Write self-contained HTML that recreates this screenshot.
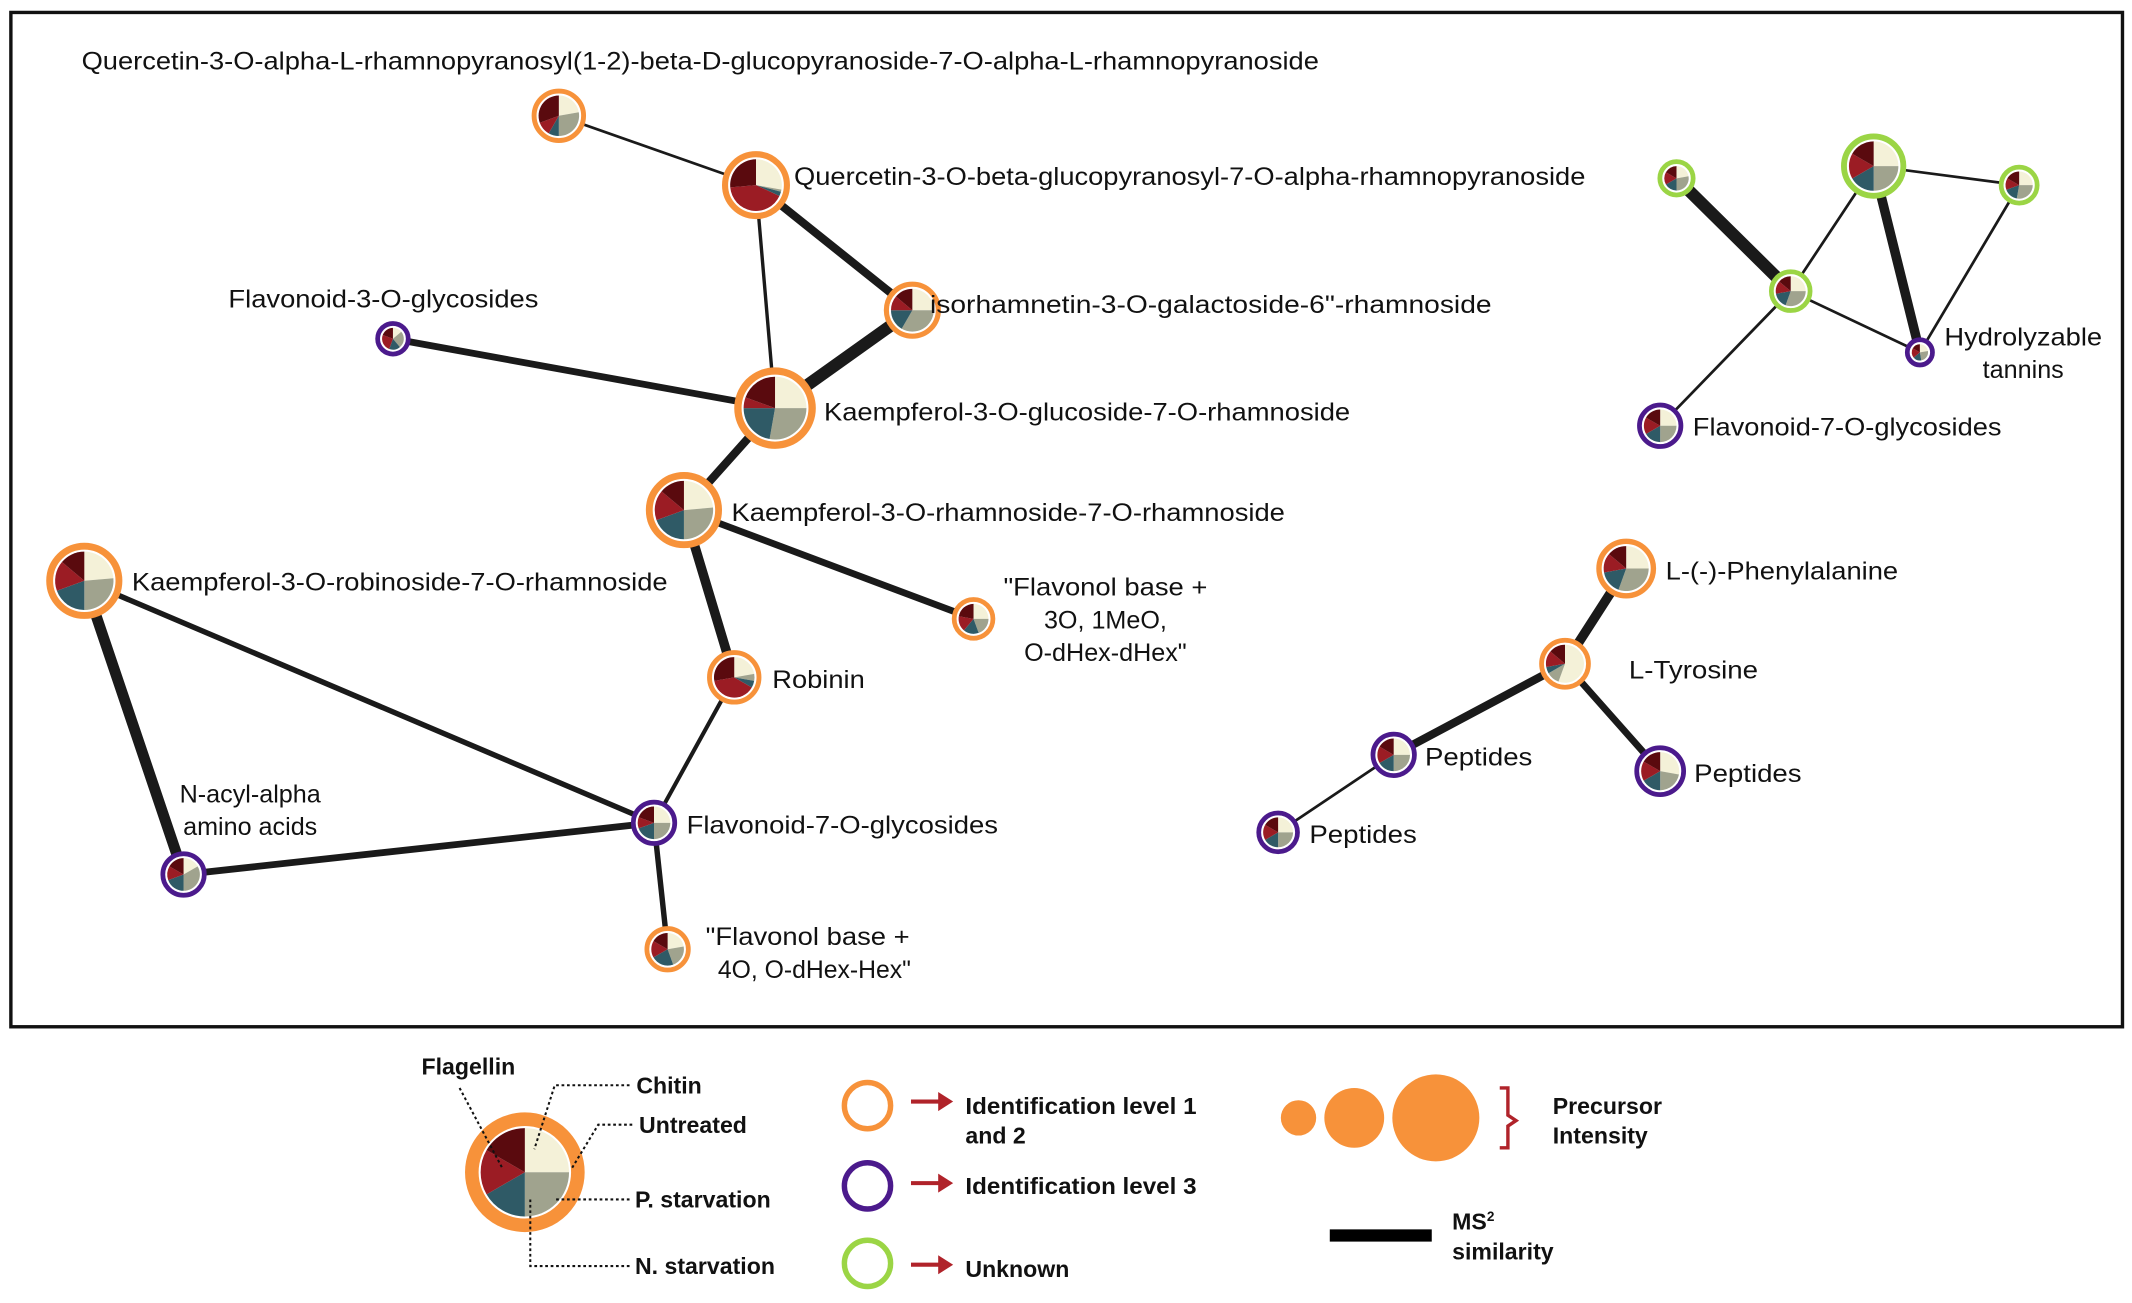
<!DOCTYPE html>
<html><head><meta charset="utf-8"><style>
html,body{margin:0;padding:0;background:#fff}
svg{display:block}
text{font-family:"Liberation Sans",Arial,sans-serif;fill:#111}
.b{font-weight:bold;font-size:17px}
</style></head><body>
<svg id="s" width="2132" height="1303" viewBox="0 0 1568 958" xmlns="http://www.w3.org/2000/svg">
<rect x="8" y="9" width="1553" height="746" fill="none" stroke="#111" stroke-width="2.5"/>
<g id="edges" stroke="#1a1a1a" stroke-linecap="round"></g>
<g id="nodes"></g>
<g font-size="18.5" lengthAdjust="spacingAndGlyphs">
<text x="60" y="51" textLength="910" lengthAdjust="spacingAndGlyphs">Quercetin-3-O-alpha-L-rhamnopyranosyl(1-2)-beta-D-glucopyranoside-7-O-alpha-L-rhamnopyranoside</text>
<text x="584" y="136" textLength="582" lengthAdjust="spacingAndGlyphs">Quercetin-3-O-beta-glucopyranosyl-7-O-alpha-rhamnopyranoside</text>
<text x="684" y="230" textLength="413" lengthAdjust="spacingAndGlyphs">isorhamnetin-3-O-galactoside-6"-rhamnoside</text>
<text x="168" y="226" textLength="228" lengthAdjust="spacingAndGlyphs">Flavonoid-3-O-glycosides</text>
<text x="606" y="309" textLength="387" lengthAdjust="spacingAndGlyphs">Kaempferol-3-O-glucoside-7-O-rhamnoside</text>
<text x="538" y="383" textLength="407" lengthAdjust="spacingAndGlyphs">Kaempferol-3-O-rhamnoside-7-O-rhamnoside</text>
<text x="97" y="434" textLength="394" lengthAdjust="spacingAndGlyphs">Kaempferol-3-O-robinoside-7-O-rhamnoside</text>
<text x="738" y="438" textLength="150" lengthAdjust="spacingAndGlyphs">"Flavonol base +</text>
<text x="813" y="462" text-anchor="middle">3O, 1MeO,</text>
<text x="813" y="486" text-anchor="middle">O-dHex-dHex"</text>
<text x="568" y="506" textLength="68" lengthAdjust="spacingAndGlyphs">Robinin</text>
<text x="505" y="613" textLength="229" lengthAdjust="spacingAndGlyphs">Flavonoid-7-O-glycosides</text>
<text x="184" y="590" text-anchor="middle">N-acyl-alpha</text>
<text x="184" y="614" text-anchor="middle">amino acids</text>
<text x="519" y="695" textLength="150" lengthAdjust="spacingAndGlyphs">"Flavonol base +</text>
<text x="528" y="719" textLength="142" lengthAdjust="spacingAndGlyphs">4O, O-dHex-Hex"</text>
<text x="1430" y="254" textLength="116" lengthAdjust="spacingAndGlyphs">Hydrolyzable</text>
<text x="1488" y="278" text-anchor="middle">tannins</text>
<text x="1245" y="320" textLength="227" lengthAdjust="spacingAndGlyphs">Flavonoid-7-O-glycosides</text>
<text x="1225" y="426" textLength="171" lengthAdjust="spacingAndGlyphs">L-(-)-Phenylalanine</text>
<text x="1198" y="499" textLength="95" lengthAdjust="spacingAndGlyphs">L-Tyrosine</text>
<text x="1048" y="563" textLength="79" lengthAdjust="spacingAndGlyphs">Peptides</text>
<text x="1246" y="575" textLength="79" lengthAdjust="spacingAndGlyphs">Peptides</text>
<text x="963" y="620" textLength="79" lengthAdjust="spacingAndGlyphs">Peptides</text>
</g>
<!-- legend -->
<g id="leg"></g>
<g stroke="#111" stroke-width="1.5" stroke-dasharray="2,2" fill="none">
<polyline points="338,800 370,860"/>
<polyline points="463,798 408,798 393,845"/>
<polyline points="465,827 440,827 420,860"/>
<polyline points="463,882 408,882"/>
<polyline points="463,931 390,931 390,880"/>
</g>
<text class="b" x="310" y="790">Flagellin</text>
<text class="b" x="468" y="804">Chitin</text>
<text class="b" x="470" y="833">Untreated</text>
<text class="b" x="467" y="888">P. starvation</text>
<text class="b" x="467" y="937">N. starvation</text>
<circle cx="638" cy="813" r="17" fill="none" stroke="#f7923a" stroke-width="4"/>
<circle cx="638" cy="872" r="17" fill="none" stroke="#4b1a8c" stroke-width="4"/>
<circle cx="638" cy="929" r="17" fill="none" stroke="#9bd545" stroke-width="4"/>
<g fill="#b0232a" stroke="#b0232a" stroke-width="3">
<line x1="670" y1="810" x2="692" y2="810"/><polygon points="690,803 701,810 690,817" stroke="none"/>
<line x1="670" y1="870" x2="692" y2="870"/><polygon points="690,863 701,870 690,877" stroke="none"/>
<line x1="670" y1="930" x2="692" y2="930"/><polygon points="690,923 701,930 690,937" stroke="none"/>
</g>
<text class="b" x="710" y="819" textLength="170" lengthAdjust="spacingAndGlyphs">Identification  level 1</text>
<text class="b" x="710" y="841">and 2</text>
<text class="b" x="710" y="878" textLength="170" lengthAdjust="spacingAndGlyphs">Identification  level 3</text>
<text class="b" x="710" y="939">Unknown</text>
<circle cx="955" cy="822" r="13" fill="#f7923a"/>
<circle cx="996" cy="822" r="22" fill="#f7923a"/>
<circle cx="1056" cy="822" r="32" fill="#f7923a"/>
<path d="M1103,800 h6 v20 l6,4 l-6,4 v16 h-6" fill="none" stroke="#b0232a" stroke-width="2.5"/>
<text class="b" x="1142" y="819">Precursor</text>
<text class="b" x="1142" y="841">Intensity</text>
<rect x="978" y="904" width="75" height="9" fill="#000"/>
<text class="b" x="1068" y="904">MS<tspan font-size="10" dy="-6">2</tspan></text>
<text class="b" x="1068" y="926">similarity</text>
</svg>
<script>
var NS="http://www.w3.org/2000/svg";
var C={o:"#f7923a",p:"#4b1a8c",g:"#9bd545"};
var P=["#f4f1d8","#a0a38e","#2f5a66","#9b1c24","#5a0a0e"];
var N={
Q1:[411,85,20,"o",[80,100,30,40,110]],
Q2:[556,136,25,"o",[100,5,10,150,95]],
Iso:[671,228,21,"o",[90,120,60,40,50]],
F3G:[289,249,13,"p",[50,90,60,90,70]],
K1:[570,300,30,"o",[90,100,80,20,70]],
K2:[503,375,28,"o",[85,95,70,60,50]],
KR:[62,427,28,"o",[85,95,70,60,50]],
FB1:[716,455,16,"o",[90,70,60,60,80]],
Rob:[540,498,20,"o",[80,20,20,140,100]],
F7G:[481,605,17,"p",[90,90,70,40,70]],
NA:[135,643,17,"p",[60,120,70,50,60]],
FB2:[491,698,17,"o",[80,80,80,60,60]],
G1:[1233,131,14,"g",[80,100,60,60,60]],
G2:[1378,122,24,"g",[90,90,60,60,60]],
G3:[1485,136,15,"g",[90,100,60,50,60]],
G4:[1317,214,16,"g",[90,110,60,50,50]],
H:[1412,259,11,"p",[80,90,60,70,60]],
F7G2:[1221,313,17,"p",[90,90,60,60,60]],
Phe:[1196,418,22,"o",[90,110,60,50,50]],
Tyr:[1151,488,19,"o",[200,40,20,50,50]],
P1:[1025,555,17,"p",[90,90,60,60,60]],
P2:[1221,567,19,"p",[100,80,60,60,60]],
P3:[940,612,16,"p",[90,90,60,60,60]]
};
var E=[["Q1","Q2",2],["Q2","Iso",6],["Q2","K1",2.5],["Iso","K1",9],["F3G","K1",5],["K1","K2",6],["K2","FB1",5],["K2","Rob",7],["Rob","F7G",3],["KR","F7G",4],["KR","NA",8],["NA","F7G",5],["F7G","FB2",4],
["G1","G4",9],["G2","G4",2],["G2","G3",2],["G2","H",7],["G3","H",2],["G4","H",2],["G4","F7G2",2],
["Phe","Tyr",7],["Tyr","P1",6],["Tyr","P2",5],["P1","P3",2]];
var eg=document.getElementById("edges"),ng=document.getElementById("nodes");
E.forEach(function(e){var a=N[e[0]],b=N[e[1]];var l=document.createElementNS(NS,"line");
l.setAttribute("x1",a[0]);l.setAttribute("y1",a[1]);l.setAttribute("x2",b[0]);l.setAttribute("y2",b[1]);l.setAttribute("stroke-width",e[2]);eg.appendChild(l);});
function pie(g,cx,cy,r,fr){var tot=fr.reduce(function(s,v){return s+v},0),a=0;
fr.forEach(function(v,i){var a0=a/tot*2*Math.PI,a1=(a+v)/tot*2*Math.PI;a+=v;
var x0=cx+r*Math.sin(a0),y0=cy-r*Math.cos(a0),x1=cx+r*Math.sin(a1),y1=cy-r*Math.cos(a1);
var p=document.createElementNS(NS,"path");
p.setAttribute("d","M"+cx+","+cy+" L"+x0+","+y0+" A"+r+","+r+" 0 "+((a1-a0)>Math.PI?1:0)+" 1 "+x1+","+y1+" Z");
p.setAttribute("fill",P[i]);g.appendChild(p);});}
function node(g,cx,cy,R,col,fr,sw){var c=document.createElementNS(NS,"circle");
c.setAttribute("cx",cx);c.setAttribute("cy",cy);c.setAttribute("r",R-sw/2);c.setAttribute("fill","#fff");
c.setAttribute("stroke",col);c.setAttribute("stroke-width",sw);g.appendChild(c);
pie(g,cx,cy,R-sw-1.5,fr);}
for(var k in N){var n=N[k];node(ng,n[0],n[1],n[2],C[n[3]],n[4],Math.max(3.5,n[2]*0.18));}
node(document.getElementById("leg"),386,862,44,C.o,[90,90,60,60,60],10);
</script>
</body></html>
